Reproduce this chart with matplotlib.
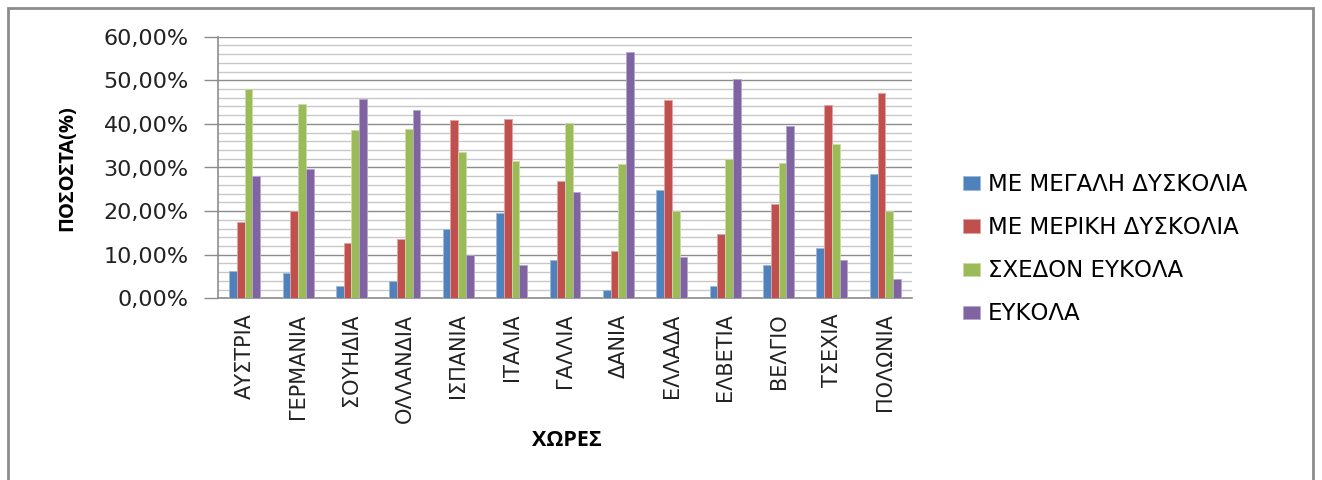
import matplotlib
matplotlib.use("Agg")
import matplotlib.pyplot as plt
import numpy as np
from matplotlib.ticker import MultipleLocator, FuncFormatter
from matplotlib.patches import Rectangle

countries = ["ΑΥΣΤΡΙΑ", "ΓΕΡΜΑΝΙΑ", "ΣΟΥΗΔΙΑ", "ΟΛΛΑΝΔΙΑ", "ΙΣΠΑΝΙΑ", "ΙΤΑΛΙΑ",
             "ΓΑΛΛΙΑ", "ΔΑΝΙΑ", "ΕΛΛΑΔΑ", "ΕΛΒΕΤΙΑ", "ΒΕΛΓΙΟ", "ΤΣΕΧΙΑ", "ΠΟΛΩΝΙΑ"]
series_names = ["ΜΕ ΜΕΓΑΛΗ ΔΥΣΚΟΛΙΑ", "ΜΕ ΜΕΡΙΚΗ ΔΥΣΚΟΛΙΑ", "ΣΧΕΔΟΝ ΕΥΚΟΛΑ", "ΕΥΚΟΛΑ"]
great_difficulty = [6.3, 5.8, 2.9, 3.9, 15.8, 19.6, 8.8, 1.9, 24.9, 2.9, 7.6, 11.5, 28.6]
some_difficulty = [17.6, 20.0, 12.6, 13.7, 41.0, 41.2, 26.8, 10.9, 45.4, 14.7, 21.6, 44.3, 47.0]
almost_easy = [48.1, 44.6, 38.6, 38.8, 33.6, 31.6, 40.1, 30.7, 20.0, 32.0, 31.0, 35.4, 20.0]
easy = [28.1, 29.7, 45.7, 43.3, 9.9, 7.6, 24.4, 56.4, 9.5, 50.4, 39.6, 8.7, 4.5]
colors = ["#4F81BD", "#C0504D", "#9BBB59", "#8064A2"]
edges = ["#9DB8DC", "#E3A3A1", "#CADBA6", "#B6A6CC"]

plt.rcParams['font.family'] = ['DejaVu Sans']

fig = plt.figure(figsize=(13.22, 4.8), dpi=100)
W, H = 1322, 480
# outer frame
fig.patches.append(Rectangle((8 / W, -0.01), (1313 - 8) / W, (480 - 8) / H + 0.01,
                             transform=fig.transFigure, fill=False,
                             edgecolor="#8C8C8C", linewidth=2))

left, right, top, bottom = 218, 912, 36.7, 298.3
ax = fig.add_axes([left / W, 1 - bottom / H, (right - left) / W, (bottom - top) / H])

data = [great_difficulty, some_difficulty, almost_easy, easy]
x = np.arange(len(countries))
bw = 0.145
for i, (vals, name) in enumerate(zip(data, series_names)):
    ax.bar(x + (i - 1.5) * bw, np.array(vals) / 100, width=bw, color=colors[i],
           edgecolor=edges[i], linewidth=0.6, label=name, zorder=3)

ax.set_xlim(-0.5, len(countries) - 0.5)
ax.set_ylim(0, 0.6)
ax.yaxis.set_major_locator(MultipleLocator(0.1))
ax.yaxis.set_minor_locator(MultipleLocator(0.02))
ax.yaxis.set_major_formatter(FuncFormatter(lambda v, p: f"{v*100:.2f}%".replace(".", ",")))
ax.grid(which="major", axis="y", color="#8C8C8C", linewidth=1.0, zorder=0)
ax.grid(which="minor", axis="y", color="#C8C8C8", linewidth=1.0, zorder=0)
ax.tick_params(axis="y", which="major", length=10, width=1, color="#8C8C8C",
               labelsize=16, pad=11, labelcolor="#222222")
ax.tick_params(axis="y", which="minor", length=0)
ax.set_xticks(x)
ax.set_xticklabels(countries, rotation=90, fontsize=15, color="#222222")
ax.tick_params(axis="x", length=0, pad=11)
for s in ["top", "right"]:
    ax.spines[s].set_visible(False)
ax.spines["left"].set_color("#8C8C8C")
ax.spines["bottom"].set_color("#8C8C8C")
ax.spines["left"].set_linewidth(1.2)
ax.spines["bottom"].set_linewidth(1.2)

fig.text(67 / W, 1 - 168 / H, "ΠΟΣΟΣΤΑ(%)", rotation=90, fontsize=14.5, fontweight="bold",
         family="Open Sans", ha="center", va="center")
fig.text(567 / W, 1 - 441 / H, "ΧΩΡΕΣ", fontsize=15.5, fontweight="bold",
         family="Open Sans", ha="center", va="center")

leg = ax.legend(loc="upper left", bbox_to_anchor=(963 / W, 1 - 173 / H),
                bbox_transform=fig.transFigure, frameon=False, fontsize=16.5,
                handlelength=0.74, handleheight=0.52, handletextpad=0.35,
                labelspacing=0.88, borderaxespad=0, borderpad=0)

fig.savefig("out.png", dpi=100)
